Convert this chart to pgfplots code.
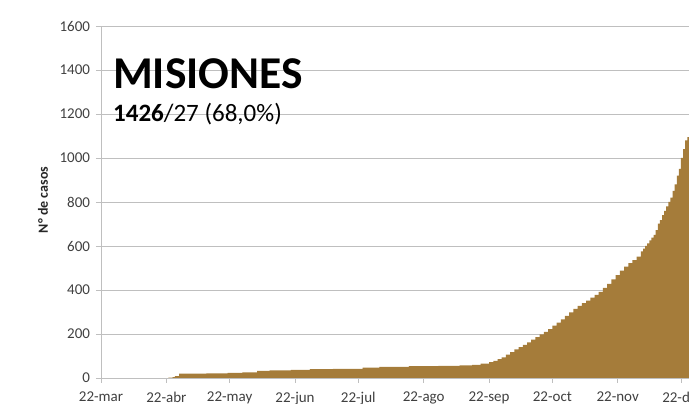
\documentclass[border=0pt]{standalone}
\usepackage{fontspec}
\setmainfont{Carlito}
\usepackage{pgfplots}
\pgfplotsset{compat=1.18}
\definecolor{barbrown}{RGB}{165,124,58}
\definecolor{gridgray}{RGB}{191,191,191}
\definecolor{txtgray}{RGB}{64,64,64}
\begin{document}
\begin{tikzpicture}[x=1pt,y=1pt]
\useasboundingbox (0,0) rectangle (689,404);
\clip (0,0) rectangle (689,404);
\begin{axis}[
  at={(101pt,26pt)}, anchor=south west,
  scale only axis, width=588pt, height=352pt,
  xmin=0, xmax=278.8, ymin=0, ymax=1600,
  axis x line*=bottom, axis y line*=left,
  axis line style={gridgray, line width=0.9pt},
  ytick={0,200,...,1600},
  xtick={0,31,61,92,122,153,184,214,245,275},
  xticklabels={22-mar,22-abr,22-may,22-jun,22-jul,22-ago,22-sep,22-oct,22-nov,22-dic},
  ymajorgrids, major grid style={gridgray, line width=0.9pt},
  tick style={gridgray, line width=0.9pt},
  major tick length=5pt,
  tick align=outside,
  scaled ticks=false,
  /pgf/number format/1000 sep={},
  /pgf/number format/assume math mode=true,
  ticklabel style={font=\fontsize{15}{15}\selectfont, text=txtgray},
  yticklabel style={xshift=-2.5pt},
  xticklabel style={yshift=-5.5pt},
  ylabel={N° de casos},
  every axis y label/.style={at={(axis description cs:-0.0986,0.506)}, rotate=90, anchor=center, font=\bfseries\fontsize{14}{14}\selectfont, text=black!85},
  clip=true,
]
\addplot[const plot mark left, fill=barbrown, draw=none] coordinates {
(32,2) (34,4) (35,8) (37,20) (50,21) (60,23) (67,25) (74,32) (80,35) (90,37)
(99,40) (110,42) (124,47) (132,50) (146,54) (160,55) (170,57) (176,60) (180,65)
(184,72) (186,78) (188,86) (190,94) (192,106) (194,118) (196,130) (198,140)
(200,150) (202,162) (204,174) (206,186) (208,198) (210,210) (212,222) (214,238)
(216,252) (218,266) (220,282) (222,298) (224,314) (226,328) (228,340) (230,352)
(232,365) (234,378) (236,392) (238,410) (240,428) (242,448) (244,468) (246,488)
(248,506) (250,522) (252,536) (254,552) (256,576) (257,588) (258,600) (259,612)
(260,626) (261,638) (262,650) (263,672) (264,702) (265,718) (266,740) (267,760)
(268,780) (269,800) (270,820) (271,850) (272,880) (273,920) (274,950) (275,1000)
(276,1040) (277,1080) (278,1095) (279,1100)
} \closedcycle;
\end{axis}
\node[anchor=base west, inner sep=0pt, font=\bfseries\fontsize{45.5}{45.5}\selectfont] at (113,315) {MISIONES};
\node[anchor=base west, inner sep=0pt, font=\fontsize{25}{25}\selectfont] at (113,282) {\textbf{1426}/27 (68,0\%)};
\end{tikzpicture}
\end{document}
